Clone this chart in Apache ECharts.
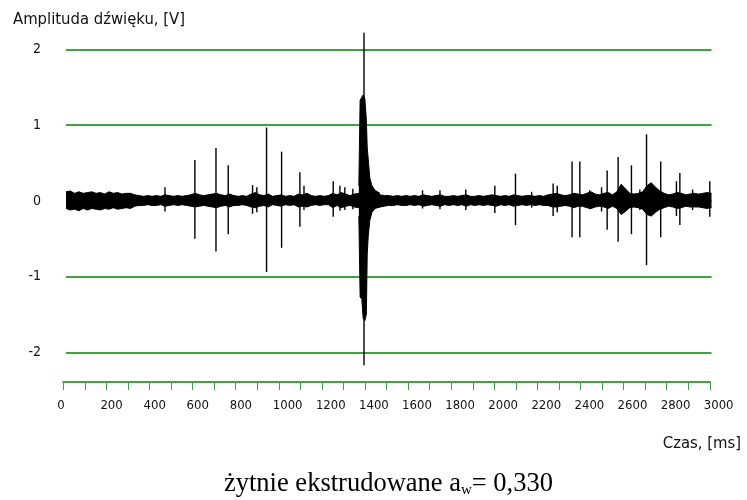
<!DOCTYPE html>
<html>
<head>
<meta charset="utf-8">
<script src="https://cdn.jsdelivr.net/npm/echarts@6/dist/echarts.min.js"></script>
<style>
html,body{margin:0;padding:0;background:#fff;}
#chart{width:747px;height:500px;}
</style>
</head>
<body>
<div id="chart"></div>
<script>
// ---- data (ms, V) ----
const titleY = 'Amplituda dźwięku, [V]';
const titleX = 'Czas, [ms]';
const yTicks = [-2, -1, 0, 1, 2];
const xMin = 0, xMax = 3000;

// baseline noise envelope, sampled every 20 ms
const envT = [0,20,40,60,80,100,120,140,160,180,200,220,240,260,280,300,320,340,360,380,400,420,440,460,480,500,520,540,560,580,600,620,640,660,680,700,720,740,760,780,800,820,840,860,880,900,920,940,960,980,1000,1020,1040,1060,1080,1100,1120,1140,1160,1180,1200,1220,1240,1260,1280,1300,1320,1340,1360,1380,1400,1420,1440,1460,1480,1500,1520,1540,1560,1580,1600,1620,1640,1660,1680,1700,1720,1740,1760,1780,1800,1820,1840,1860,1880,1900,1920,1940,1960,1980,2000,2020,2040,2060,2080,2100,2120,2140,2160,2180,2200,2220,2240,2260,2280,2300,2320,2340,2360,2380,2400,2420,2440,2460,2480,2500,2520,2540,2560,2580,2600,2620,2640,2660,2680,2700,2720,2740,2760,2780,2800,2820,2840,2860,2880,2900,2920,2940,2960,2980,3000];
const envUp = [0.12,0.13,0.10,0.12,0.10,0.11,0.12,0.10,0.11,0.09,0.12,0.10,0.11,0.09,0.10,0.10,0.08,0.07,0.06,0.07,0.06,0.07,0.06,0.08,0.07,0.06,0.07,0.06,0.07,0.08,0.10,0.08,0.07,0.08,0.09,0.10,0.08,0.07,0.09,0.07,0.06,0.07,0.06,0.09,0.11,0.08,0.07,0.09,0.06,0.07,0.08,0.06,0.07,0.06,0.09,0.08,0.10,0.07,0.06,0.07,0.06,0.07,0.10,0.08,0.11,0.09,0.07,0.09,0.10,0.12,0.12,0.10,0.09,0.08,0.07,0.07,0.06,0.07,0.06,0.07,0.06,0.07,0.06,0.08,0.07,0.06,0.07,0.08,0.06,0.06,0.07,0.06,0.07,0.08,0.06,0.06,0.07,0.06,0.07,0.08,0.07,0.06,0.07,0.06,0.08,0.07,0.06,0.07,0.07,0.06,0.07,0.06,0.08,0.09,0.10,0.08,0.07,0.08,0.10,0.09,0.08,0.10,0.12,0.09,0.08,0.10,0.11,0.08,0.12,0.22,0.16,0.10,0.09,0.10,0.12,0.20,0.24,0.18,0.13,0.10,0.08,0.09,0.11,0.10,0.08,0.09,0.10,0.09,0.10,0.11,0.10];
const envLo = [-0.10,-0.12,-0.11,-0.13,-0.10,-0.12,-0.10,-0.11,-0.12,-0.10,-0.11,-0.09,-0.11,-0.10,-0.09,-0.10,-0.07,-0.06,-0.06,-0.05,-0.06,-0.06,-0.05,-0.07,-0.06,-0.05,-0.06,-0.05,-0.06,-0.07,-0.08,-0.07,-0.06,-0.07,-0.08,-0.09,-0.07,-0.06,-0.08,-0.06,-0.06,-0.05,-0.06,-0.08,-0.09,-0.07,-0.06,-0.08,-0.05,-0.06,-0.07,-0.05,-0.06,-0.05,-0.08,-0.07,-0.08,-0.06,-0.05,-0.06,-0.05,-0.05,-0.09,-0.06,-0.09,-0.07,-0.06,-0.08,-0.09,-0.12,-0.11,-0.10,-0.09,-0.08,-0.07,-0.06,-0.06,-0.05,-0.06,-0.06,-0.05,-0.06,-0.05,-0.07,-0.06,-0.05,-0.06,-0.07,-0.05,-0.06,-0.05,-0.06,-0.05,-0.07,-0.05,-0.06,-0.05,-0.06,-0.05,-0.06,-0.07,-0.05,-0.06,-0.05,-0.07,-0.06,-0.05,-0.06,-0.05,-0.06,-0.05,-0.06,-0.06,-0.08,-0.08,-0.07,-0.06,-0.07,-0.09,-0.07,-0.07,-0.09,-0.10,-0.08,-0.07,-0.08,-0.10,-0.07,-0.10,-0.18,-0.14,-0.09,-0.08,-0.09,-0.11,-0.18,-0.20,-0.15,-0.11,-0.09,-0.07,-0.08,-0.10,-0.09,-0.07,-0.08,-0.08,-0.08,-0.09,-0.10,-0.09];

// main burst envelope
const burstT  = [1361,1367,1375,1381,1389,1396,1400,1405,1412,1422,1436,1459];
const burstUp = [0.20,1.33,1.35,1.40,1.35,1.07,0.70,0.54,0.30,0.20,0.14,0.10];
const burstLo = [-0.20,-1.27,-1.30,-1.55,-1.58,-1.50,-0.70,-0.45,-0.26,-0.15,-0.10,-0.08];

// isolated spikes (impulses)
const spikeT  = [460,599,697,754,867,887,932,1002,1087,1106,1242,1273,1296,1333,1385,1657,1738,1858,1993,2089,2164,2264,2283,2352,2388,2434,2489,2515,2566,2628,2667,2698,2764,2837,2853,2912,2992];
const spikeUp = [0.18,0.54,0.70,0.47,0.21,0.18,0.97,0.65,0.38,0.20,0.26,0.20,0.18,0.16,2.22,0.14,0.14,0.15,0.20,0.36,0.12,0.23,0.20,0.52,0.52,0.14,0.18,0.40,0.58,0.47,0.15,0.88,0.52,0.26,0.37,0.15,0.26];
const spikeLo = [-0.14,-0.50,-0.67,-0.44,-0.17,-0.15,-0.94,-0.62,-0.34,-0.12,-0.21,-0.13,-0.12,-0.11,-2.17,-0.10,-0.11,-0.12,-0.16,-0.32,-0.09,-0.20,-0.15,-0.48,-0.48,-0.11,-0.14,-0.38,-0.54,-0.44,-0.12,-0.85,-0.48,-0.20,-0.32,-0.12,-0.21];

// ---- chart ----
const NARROW = "'Liberation Sans Narrow','Arial Narrow','DejaVu Sans Condensed',sans-serif";
const SERIF = "'Liberation Serif','Times New Roman',serif";
const GREEN = '#3fa33f';

const pairs = (xs, ys) => xs.map((x, i) => [x, ys[i]]);
const areaLine = (name, xs, ys, clip) => ({
  name, type: 'line', xAxisIndex: 0, yAxisIndex: 0,
  data: pairs(xs, ys), symbol: 'none', silent: true, clip: clip,
  lineStyle: { color: '#000', width: 1 },
  areaStyle: { color: '#000', opacity: 1 }
});
const spikeBar = (name, ys) => ({
  name, type: 'bar', xAxisIndex: 0, yAxisIndex: 0,
  data: pairs(spikeT, ys), barWidth: 1.4, barGap: '-100%', clip: false, silent: true,
  itemStyle: { color: '#000' }
});

const chart = echarts.init(document.getElementById('chart'), null, { renderer: 'canvas' });
chart.setOption({
  animation: false,
  backgroundColor: '#fff',
  title: [
    { text: titleY, left: 8, top: 6, textStyle: { fontFamily: NARROW, fontSize: 16.5, fontWeight: 'normal', color: '#111' } },
    { text: titleX, right: 1, top: 430, textStyle: { fontFamily: NARROW, fontSize: 16.5, fontWeight: 'normal', color: '#111' } },
    { text: '{m|żytnie ekstrudowane a}{s|w}{m|= 0,330}', left: 219, top: 465,
      textStyle: { fontWeight: 'normal', rich: {
        m: { fontFamily: SERIF, fontSize: 26.5, fontWeight: 'normal', color: '#000', lineHeight: 28 },
        s: { fontFamily: SERIF, fontSize: 15, fontWeight: 'normal', color: '#000', lineHeight: 15, verticalAlign: 'bottom' }
      } } }
  ],
  grid: [
    { left: 66, top: 49.5, width: 645.5, height: 302.8 },
    { left: 63.3, top: 382, width: 646.5, height: 0 },
    { left: 57.3, top: 382, width: 646.5, height: 0 }
  ],
  xAxis: [
    { gridIndex: 0, type: 'value', min: xMin, max: xMax, show: false },
    { gridIndex: 1, type: 'value', min: xMin, max: xMax, interval: 200,
      axisLine: { show: true, lineStyle: { color: GREEN, width: 2 } },
      axisTick: { show: true, length: 8, lineStyle: { color: GREEN, width: 1 } },
      minorTick: { show: true, splitNumber: 2, length: 8, lineStyle: { color: GREEN, width: 1 } },
      axisLabel: { show: false }, splitLine: { show: false } },
    { gridIndex: 2, type: 'value', min: xMin, max: xMax, interval: 200,
      axisLine: { show: false }, axisTick: { show: false }, splitLine: { show: false },
      axisLabel: { show: true, align: 'left', margin: 17, fontFamily: NARROW, fontSize: 13, color: '#111',
        showMinLabel: true, showMaxLabel: true, formatter: v => String(v) } }
  ],
  yAxis: [
    { gridIndex: 0, type: 'value', min: yTicks[0], max: yTicks[yTicks.length - 1], interval: 1,
      axisLine: { show: false }, axisTick: { show: false },
      splitLine: { show: true, lineStyle: { color: GREEN, width: 2 } },
      axisLabel: { margin: 25, fontFamily: NARROW, fontSize: 14, color: '#111', formatter: v => String(v) } },
    { gridIndex: 1, type: 'value', min: 0, max: 1, show: false },
    { gridIndex: 2, type: 'value', min: 0, max: 1, show: false }
  ],
  series: [
    areaLine('baseUp', envT, envUp, true),
    areaLine('baseLo', envT, envLo, true),
    areaLine('burstUp', burstT, burstUp, false),
    areaLine('burstLo', burstT, burstLo, false),
    spikeBar('spikeUp', spikeUp),
    spikeBar('spikeLo', spikeLo)
  ]
});
</script>
</body>
</html>
